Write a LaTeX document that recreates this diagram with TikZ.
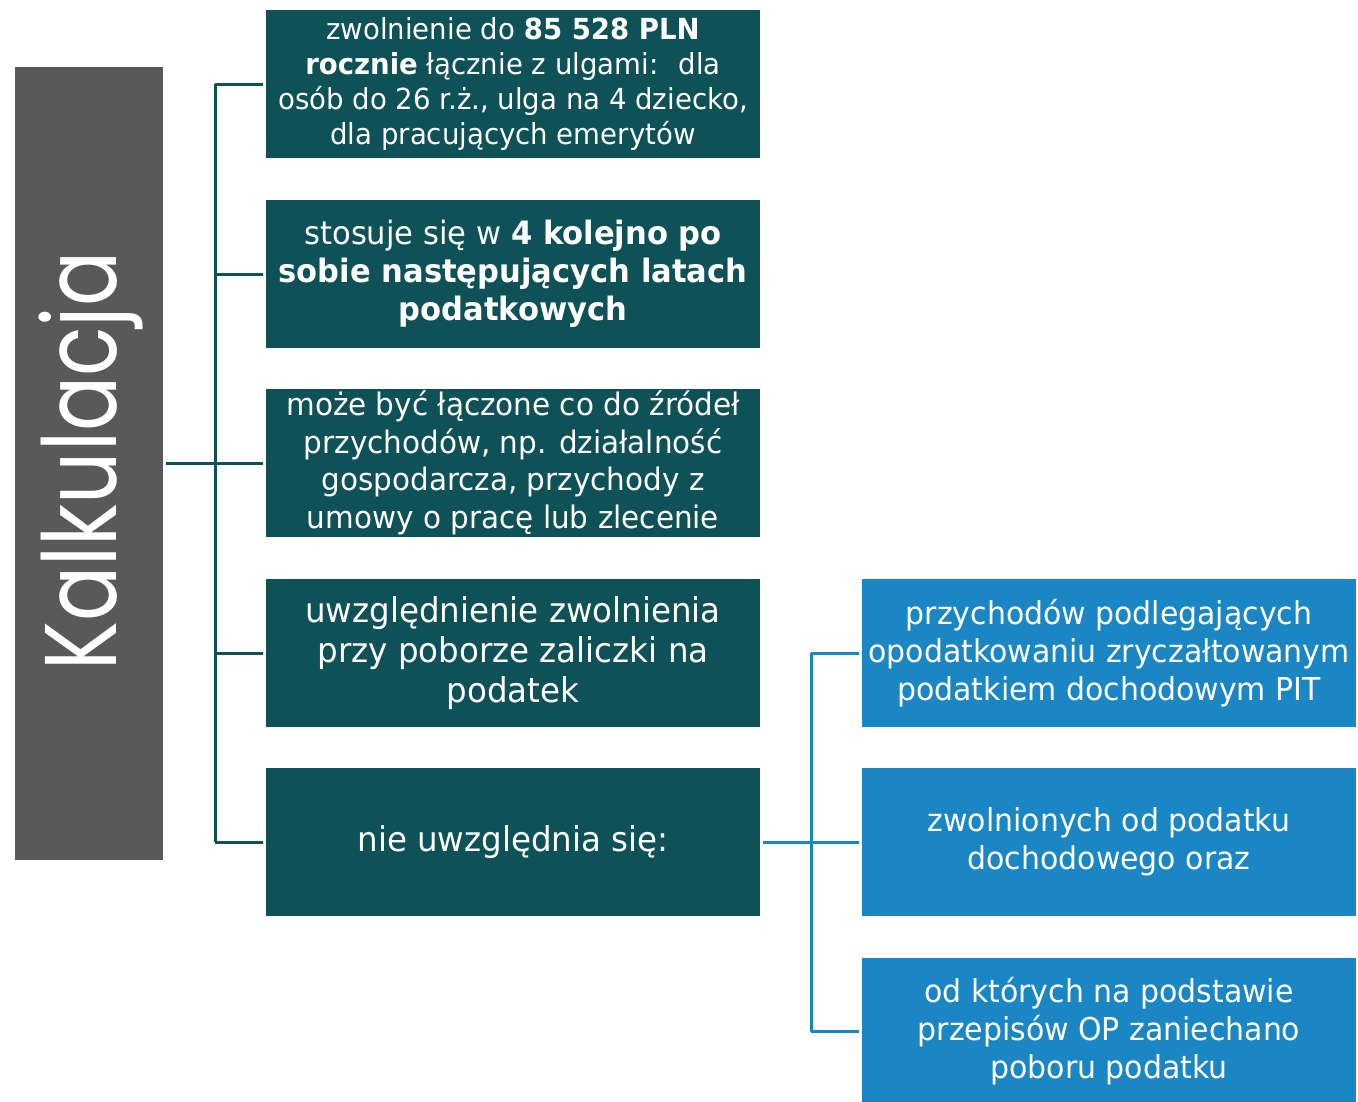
\documentclass[tikz,border=0pt]{standalone}
\usepackage{graphicx}
\usepackage{fontspec}
\setmainfont{DejaVu Sans}[FakeStretch=0.95]
\newfontfamily\kalfont{Poppins}
\definecolor{tealc}{RGB}{14,81,87}
\definecolor{bluec}{RGB}{26,134,196}
\definecolor{grayc}{RGB}{89,89,89}
\begin{document}
\begin{tikzpicture}[x=1pt,y=-1pt,
  tealbox/.style={rectangle, fill=tealc, minimum width=494, minimum height=148, inner sep=0pt, text=white, align=center},
  bluebox/.style={rectangle, fill=bluec, minimum width=494, minimum height=148, inner sep=0pt, text=white, align=center},
  tl/.style={draw=tealc, line width=3pt},
  bl/.style={draw=bluec, line width=3pt},
  fA/.style={font=\fontsize{29}{35}\selectfont},
  fB/.style={font=\fontsize{32.2}{38}\selectfont},
  fC/.style={font=\fontsize{31}{37.5}\selectfont},
  fD/.style={font=\fontsize{34.2}{40}\selectfont},
  fE/.style={font=\fontsize{31.5}{38}\selectfont}]
\useasboundingbox (0,0) rectangle (1358,1101);
\node[fill=grayc, minimum width=148, minimum height=793, inner sep=0pt] (gray) at (89,463.5) {};
\node[rotate=90, text=white, font=\kalfont\fontsize{102}{102}\selectfont, inner sep=0pt] (kal) at (91,461) {\scalebox{0.8}[1]{Kalkulacja}};

\node[tealbox, fA] (t1) at (513,84) {zwolnienie do \textbf{85 528 PLN}\\ \textbf{rocznie} łącznie z ulgami:~ dla\\ osób do 26 r.ż., ulga na 4 dziecko,\\ dla pracujących emerytów};
\node[tealbox, fB] (t2) at (513,274) {stosuje się w \textbf{4 kolejno po}\\ \textbf{sobie następujących latach}\\ \textbf{podatkowych}};
\node[tealbox, fC] (t3) at (513,463) {może być łączone co do źródeł\\ przychodów, np. działalność\\ gospodarcza, przychody z\\ umowy o pracę lub zlecenie};
\node[tealbox, fD] (t4) at (513,653) {uwzględnienie zwolnienia\\ przy poborze zaliczki na\\ podatek};
\node[tealbox, fD] (t5) at (513,842) {nie uwzględnia się:};

\node[bluebox, fE] (b1) at (1109,653) {przychodów podlegających\\ opodatkowaniu zryczałtowanym\\ podatkiem dochodowym PIT};
\node[bluebox, fE] (b2) at (1109,842) {zwolnionych od podatku\\ dochodowego oraz};
\node[bluebox, fE] (b3) at (1109,1031.5) {od których na podstawie\\ przepisów OP zaniechano\\ poboru podatku};

\coordinate (sp) at (215,463.5);
\draw[tl, shorten <=3pt] (gray.east) -- (sp);
\draw[tl] (sp|-t1.west) -- (sp|-t5.west);
\foreach \n in {t1,t2,t3,t4,t5} {
  \draw[tl, shorten >=3pt] (sp|-\n.west) -- (\n.west);
}
\coordinate (bs) at (811,842);
\draw[bl, shorten <=3pt, shorten >=3pt] (t5.east) -- (b2.west);
\draw[bl] (bs|-b1.west) -- (bs|-b3.west);
\foreach \n in {b1,b2,b3} {
  \draw[bl, shorten >=3pt] (bs|-\n.west) -- (\n.west);
}
\end{tikzpicture}
\end{document}
